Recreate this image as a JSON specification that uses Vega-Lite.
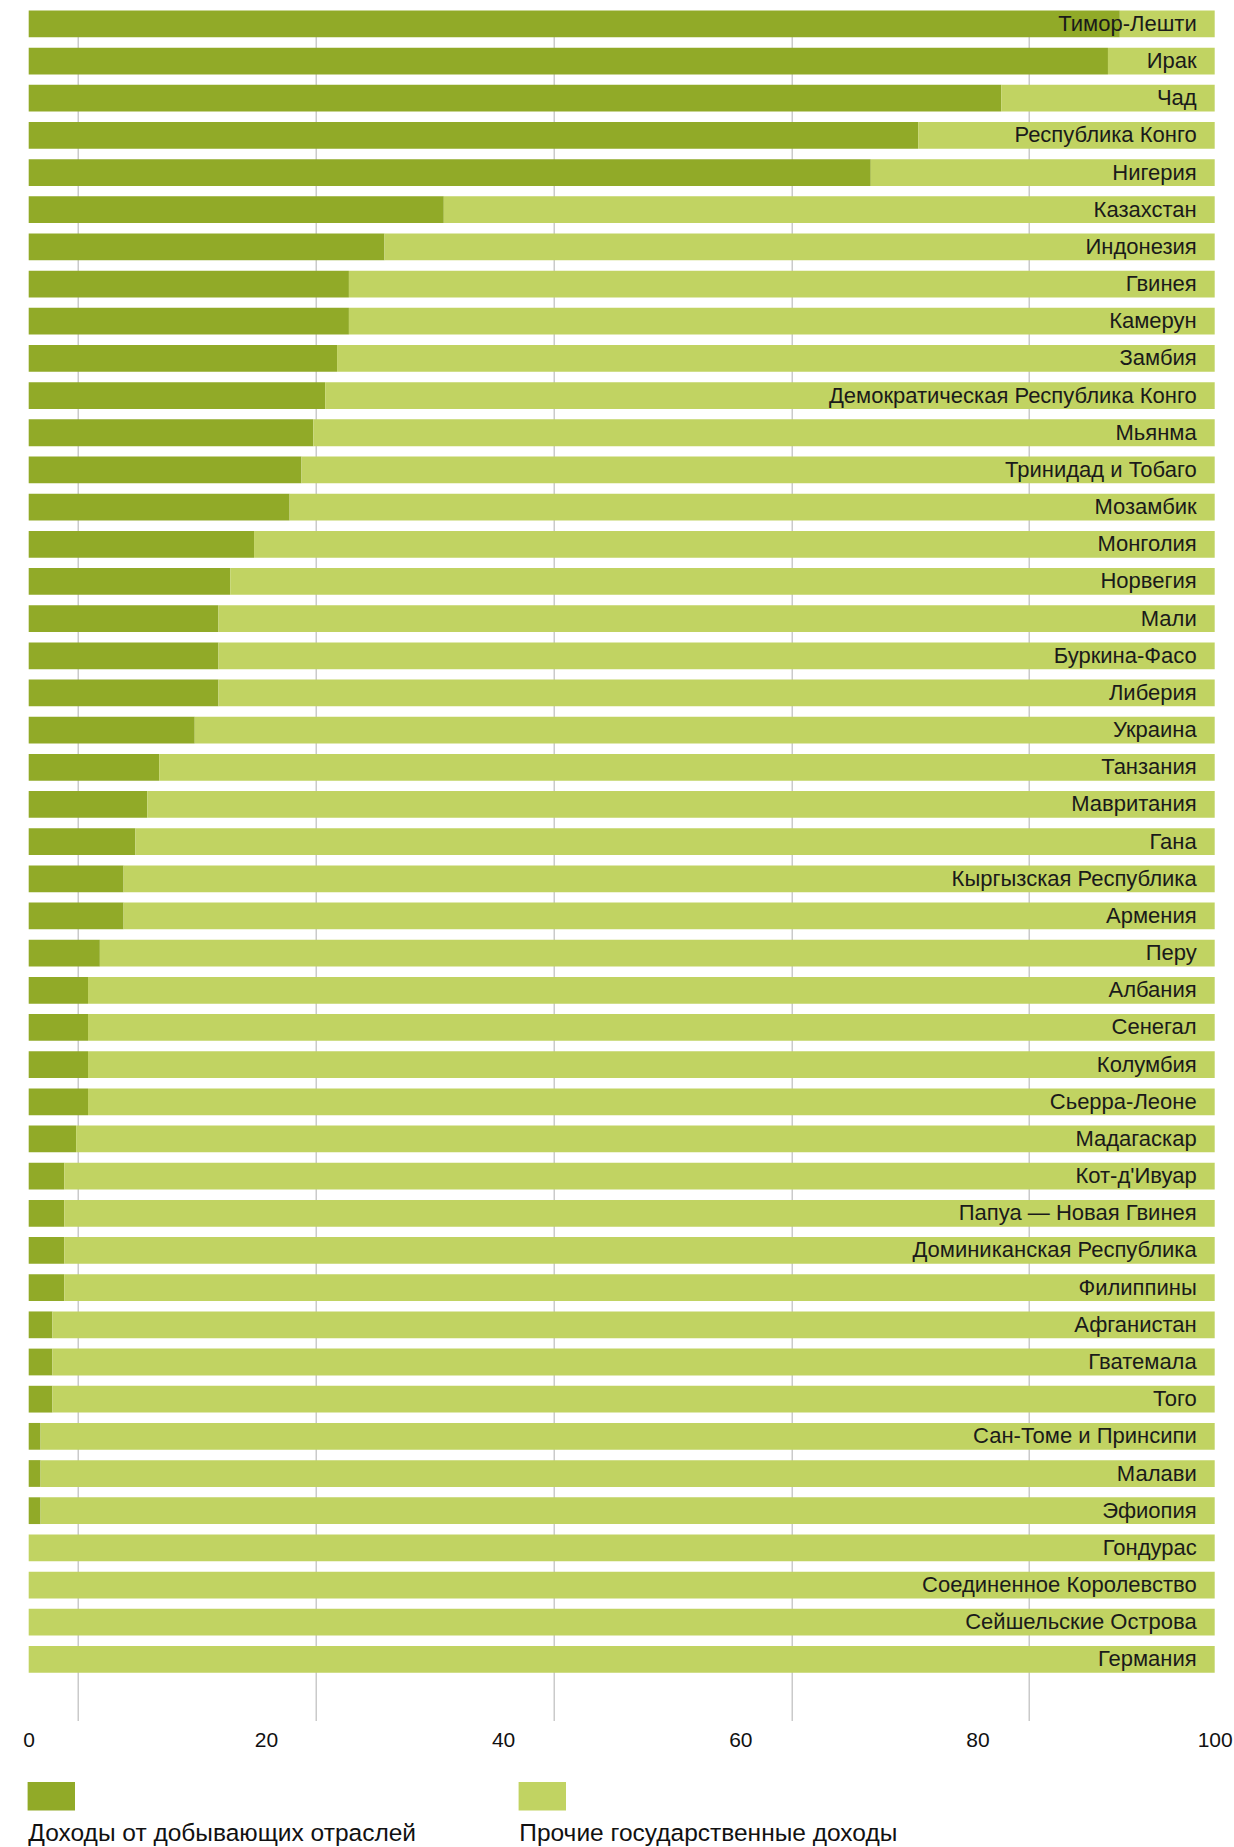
{
  "$schema": "https://vega.github.io/schema/vega-lite/v6.json",
  "width": 1186,
  "height": 1710,
  "autosize": {"type": "none"},
  "padding": {"left": 28.7, "top": 10.5, "right": 19.3, "bottom": 126.5},
  "background": "#ffffff",
  "config": {
    "view": {"stroke": null},
    "font": "Liberation Sans",
    "style": {"guide-label": {"lineHeight": 26}}
  },
  "datasets": {
    "rows": [
      {"country": "Тимор-Лешти", "type": "Доходы от добывающих отраслей", "value": 92},
      {"country": "Тимор-Лешти", "type": "Прочие государственные доходы", "value": 8},
      {"country": "Ирак", "type": "Доходы от добывающих отраслей", "value": 91},
      {"country": "Ирак", "type": "Прочие государственные доходы", "value": 9},
      {"country": "Чад", "type": "Доходы от добывающих отраслей", "value": 82},
      {"country": "Чад", "type": "Прочие государственные доходы", "value": 18},
      {"country": "Республика Конго", "type": "Доходы от добывающих отраслей", "value": 75},
      {"country": "Республика Конго", "type": "Прочие государственные доходы", "value": 25},
      {"country": "Нигерия", "type": "Доходы от добывающих отраслей", "value": 71},
      {"country": "Нигерия", "type": "Прочие государственные доходы", "value": 29},
      {"country": "Казахстан", "type": "Доходы от добывающих отраслей", "value": 35},
      {"country": "Казахстан", "type": "Прочие государственные доходы", "value": 65},
      {"country": "Индонезия", "type": "Доходы от добывающих отраслей", "value": 30},
      {"country": "Индонезия", "type": "Прочие государственные доходы", "value": 70},
      {"country": "Гвинея", "type": "Доходы от добывающих отраслей", "value": 27},
      {"country": "Гвинея", "type": "Прочие государственные доходы", "value": 73},
      {"country": "Камерун", "type": "Доходы от добывающих отраслей", "value": 27},
      {"country": "Камерун", "type": "Прочие государственные доходы", "value": 73},
      {"country": "Замбия", "type": "Доходы от добывающих отраслей", "value": 26},
      {"country": "Замбия", "type": "Прочие государственные доходы", "value": 74},
      {"country": "Демократическая Республика Конго", "type": "Доходы от добывающих отраслей", "value": 25},
      {"country": "Демократическая Республика Конго", "type": "Прочие государственные доходы", "value": 75},
      {"country": "Мьянма", "type": "Доходы от добывающих отраслей", "value": 24},
      {"country": "Мьянма", "type": "Прочие государственные доходы", "value": 76},
      {"country": "Тринидад и Тобаго", "type": "Доходы от добывающих отраслей", "value": 23},
      {"country": "Тринидад и Тобаго", "type": "Прочие государственные доходы", "value": 77},
      {"country": "Мозамбик", "type": "Доходы от добывающих отраслей", "value": 22},
      {"country": "Мозамбик", "type": "Прочие государственные доходы", "value": 78},
      {"country": "Монголия", "type": "Доходы от добывающих отраслей", "value": 19},
      {"country": "Монголия", "type": "Прочие государственные доходы", "value": 81},
      {"country": "Норвегия", "type": "Доходы от добывающих отраслей", "value": 17},
      {"country": "Норвегия", "type": "Прочие государственные доходы", "value": 83},
      {"country": "Мали", "type": "Доходы от добывающих отраслей", "value": 16},
      {"country": "Мали", "type": "Прочие государственные доходы", "value": 84},
      {"country": "Буркина-Фасо", "type": "Доходы от добывающих отраслей", "value": 16},
      {"country": "Буркина-Фасо", "type": "Прочие государственные доходы", "value": 84},
      {"country": "Либерия", "type": "Доходы от добывающих отраслей", "value": 16},
      {"country": "Либерия", "type": "Прочие государственные доходы", "value": 84},
      {"country": "Украина", "type": "Доходы от добывающих отраслей", "value": 14},
      {"country": "Украина", "type": "Прочие государственные доходы", "value": 86},
      {"country": "Танзания", "type": "Доходы от добывающих отраслей", "value": 11},
      {"country": "Танзания", "type": "Прочие государственные доходы", "value": 89},
      {"country": "Мавритания", "type": "Доходы от добывающих отраслей", "value": 10},
      {"country": "Мавритания", "type": "Прочие государственные доходы", "value": 90},
      {"country": "Гана", "type": "Доходы от добывающих отраслей", "value": 9},
      {"country": "Гана", "type": "Прочие государственные доходы", "value": 91},
      {"country": "Кыргызская Республика", "type": "Доходы от добывающих отраслей", "value": 8},
      {"country": "Кыргызская Республика", "type": "Прочие государственные доходы", "value": 92},
      {"country": "Армения", "type": "Доходы от добывающих отраслей", "value": 8},
      {"country": "Армения", "type": "Прочие государственные доходы", "value": 92},
      {"country": "Перу", "type": "Доходы от добывающих отраслей", "value": 6},
      {"country": "Перу", "type": "Прочие государственные доходы", "value": 94},
      {"country": "Албания", "type": "Доходы от добывающих отраслей", "value": 5},
      {"country": "Албания", "type": "Прочие государственные доходы", "value": 95},
      {"country": "Сенегал", "type": "Доходы от добывающих отраслей", "value": 5},
      {"country": "Сенегал", "type": "Прочие государственные доходы", "value": 95},
      {"country": "Колумбия", "type": "Доходы от добывающих отраслей", "value": 5},
      {"country": "Колумбия", "type": "Прочие государственные доходы", "value": 95},
      {"country": "Сьерра-Леоне", "type": "Доходы от добывающих отраслей", "value": 5},
      {"country": "Сьерра-Леоне", "type": "Прочие государственные доходы", "value": 95},
      {"country": "Мадагаскар", "type": "Доходы от добывающих отраслей", "value": 4},
      {"country": "Мадагаскар", "type": "Прочие государственные доходы", "value": 96},
      {"country": "Кот-д'Ивуар", "type": "Доходы от добывающих отраслей", "value": 3},
      {"country": "Кот-д'Ивуар", "type": "Прочие государственные доходы", "value": 97},
      {"country": "Папуа — Новая Гвинея", "type": "Доходы от добывающих отраслей", "value": 3},
      {"country": "Папуа — Новая Гвинея", "type": "Прочие государственные доходы", "value": 97},
      {"country": "Доминиканская Республика", "type": "Доходы от добывающих отраслей", "value": 3},
      {"country": "Доминиканская Республика", "type": "Прочие государственные доходы", "value": 97},
      {"country": "Филиппины", "type": "Доходы от добывающих отраслей", "value": 3},
      {"country": "Филиппины", "type": "Прочие государственные доходы", "value": 97},
      {"country": "Афганистан", "type": "Доходы от добывающих отраслей", "value": 2},
      {"country": "Афганистан", "type": "Прочие государственные доходы", "value": 98},
      {"country": "Гватемала", "type": "Доходы от добывающих отраслей", "value": 2},
      {"country": "Гватемала", "type": "Прочие государственные доходы", "value": 98},
      {"country": "Того", "type": "Доходы от добывающих отраслей", "value": 2},
      {"country": "Того", "type": "Прочие государственные доходы", "value": 98},
      {"country": "Сан-Томе и Принсипи", "type": "Доходы от добывающих отраслей", "value": 1},
      {"country": "Сан-Томе и Принсипи", "type": "Прочие государственные доходы", "value": 99},
      {"country": "Малави", "type": "Доходы от добывающих отраслей", "value": 1},
      {"country": "Малави", "type": "Прочие государственные доходы", "value": 99},
      {"country": "Эфиопия", "type": "Доходы от добывающих отраслей", "value": 1},
      {"country": "Эфиопия", "type": "Прочие государственные доходы", "value": 99},
      {"country": "Гондурас", "type": "Доходы от добывающих отраслей", "value": 0},
      {"country": "Гондурас", "type": "Прочие государственные доходы", "value": 100},
      {"country": "Соединенное Королевство", "type": "Доходы от добывающих отраслей", "value": 0},
      {"country": "Соединенное Королевство", "type": "Прочие государственные доходы", "value": 100},
      {"country": "Сейшельские Острова", "type": "Доходы от добывающих отраслей", "value": 0},
      {"country": "Сейшельские Острова", "type": "Прочие государственные доходы", "value": 100},
      {"country": "Германия", "type": "Доходы от добывающих отраслей", "value": 0},
      {"country": "Германия", "type": "Прочие государственные доходы", "value": 100}
    ]
  },
  "data": {"name": "rows"},
  "encoding": {
    "y": {
      "field": "country",
      "type": "nominal",
      "sort": null,
      "axis": null,
      "scale": {"paddingInner": 0.28, "paddingOuter": 0.6425, "align": 0}
    }
  },
  "layer": [
    {
      "mark": {"type": "bar"},
      "encoding": {
        "x": {
          "field": "value",
          "type": "quantitative",
          "stack": "zero",
          "scale": {"domain": [0, 100], "nice": false},
          "axis": {
            "title": null,
            "values": [0, 4.1, 20, 24.2, 40, 44.3, 60, 64.3, 80, 84.3, 100],
            "labelExpr": "datum.value % 20 === 0 ? datum.label : ''",
            "gridOpacity": {"condition": {"test": "datum.value % 20 === 0", "value": 0}, "value": 1},
            "grid": true,
            "gridColor": "#bdbdbd",
            "gridWidth": 1.2,
            "domain": false,
            "ticks": false,
            "labelPadding": 8.5,
            "labelFontSize": 21,
            "labelColor": "#111111",
            "labelOverlap": false,
            "labelFlush": false
          }
        },
        "color": {
          "field": "type",
          "type": "nominal",
          "scale": {
            "domain": ["Доходы от добывающих отраслей", "Прочие государственные доходы"],
            "range": ["#91aa28", "#c1d362"]
          },
          "legend": {
            "orient": "none",
            "legendX": -1.4,
            "legendY": 1761.5,
            "direction": "horizontal",
            "title": null,
            "padding": 0,
            "symbolType": "M-1,-0.605H1V0.605H-1Z",
            "symbolSize": 2247,
            "symbolStrokeWidth": 0,
            "symbolOpacity": 1,
            "labelExpr": "['', datum.label]",
            "labelBaseline": "top",
            "labelOffset": -47,
            "labelFontSize": 24.5,
            "labelColor": "#111111",
            "labelLimit": 700,
            "columnPadding": 102
          }
        }
      }
    },
    {
      "transform": [{"filter": "datum.type === 'Прочие государственные доходы'"}],
      "mark": {"type": "text", "align": "right", "baseline": "middle", "dx": -18, "fontSize": 22, "color": "#1a1a1a"},
      "encoding": {
        "x": {"datum": 100},
        "text": {"field": "country", "type": "nominal"}
      }
    }
  ]
}
